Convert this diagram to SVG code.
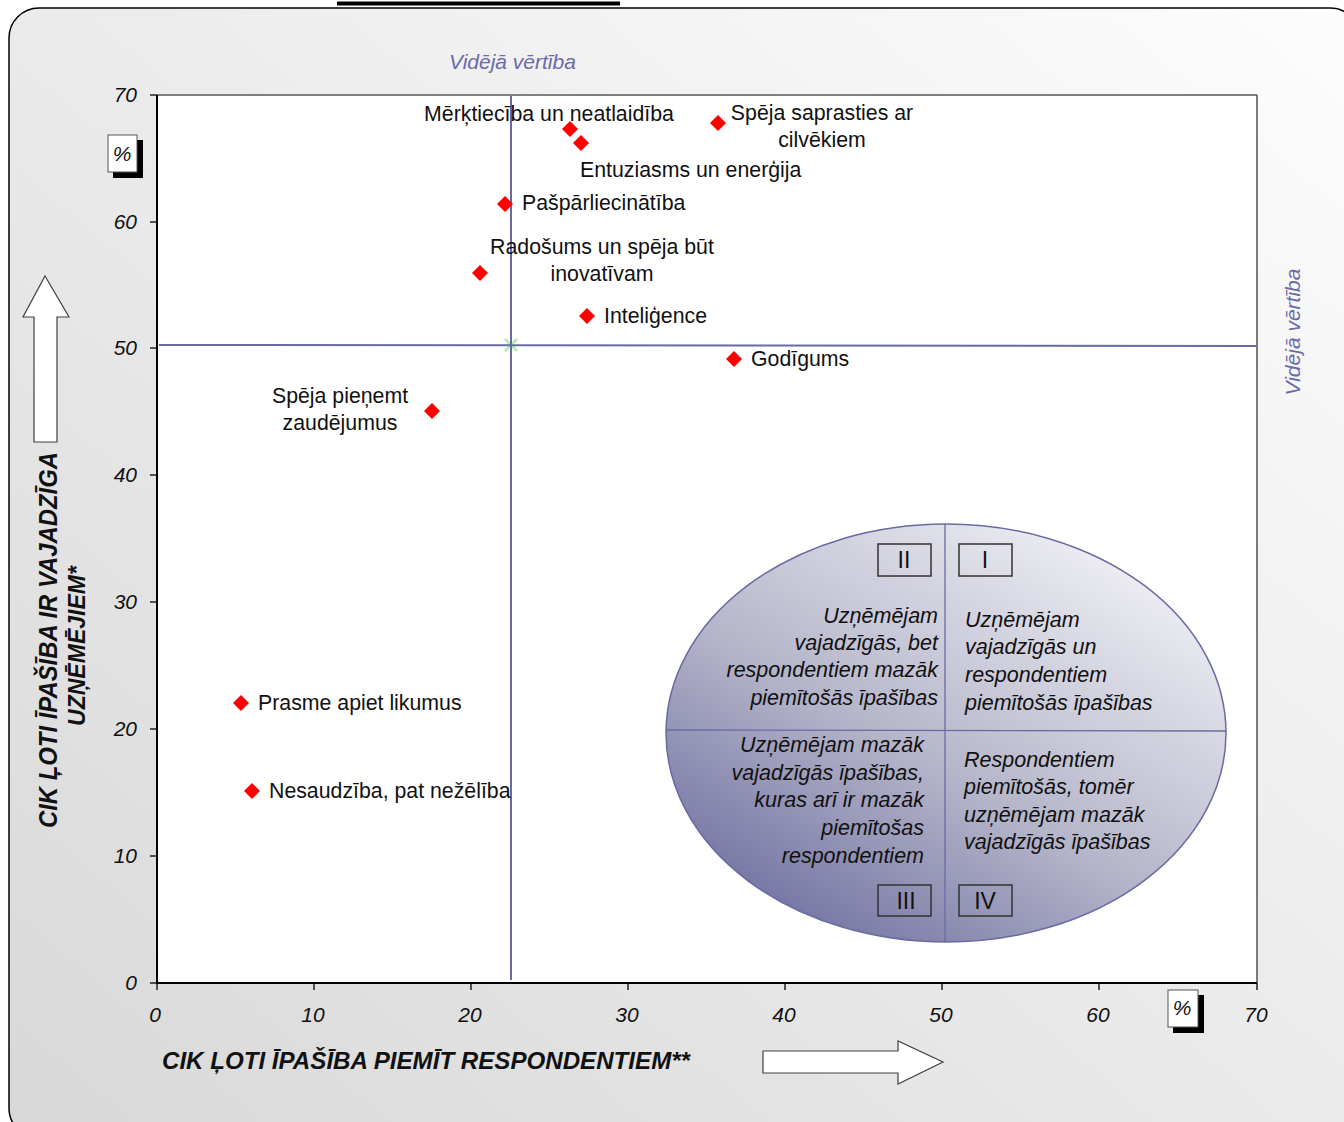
<svg xmlns="http://www.w3.org/2000/svg" width="1344" height="1122" viewBox="0 0 1344 1122">
<style>
.lbl{font-family:"Liberation Sans",Arial,sans-serif;font-size:21.3px;fill:#111}
.tick{font-family:"Liberation Sans",Arial,sans-serif;font-size:21px;font-style:italic;fill:#111}
.mean{font-family:"Liberation Sans",Arial,sans-serif;font-size:21px;font-style:italic;fill:#6a6aa8}
.q{font-family:"Liberation Sans",Arial,sans-serif;font-size:21.5px;font-style:italic;fill:#111}
.rn{font-family:"Liberation Sans",Arial,sans-serif;font-size:23px;fill:#111;text-anchor:middle}
.ax{font-family:"Liberation Sans",Arial,sans-serif;font-weight:bold;font-style:italic;fill:#111}
.dot{fill:#ff0000}
.meanline{stroke:#6a6aa2;stroke-width:2;fill:none}
.box{fill:none;stroke:#333;stroke-width:1.5}
.arrow{fill:#fff;stroke:#404040;stroke-width:1.2}
</style>
<defs>
<linearGradient id="bg" x1="0" y1="1" x2="1" y2="0">
<stop offset="0" stop-color="#d8d8d8"/>
<stop offset="1" stop-color="#fdfdfd"/>
</linearGradient>
<linearGradient id="ell" x1="0.1" y1="1" x2="0.9" y2="0">
<stop offset="0" stop-color="#65659a"/>
<stop offset="0.45" stop-color="#b6b6cb"/>
<stop offset="1" stop-color="#f8f8fa"/>
</linearGradient>
<clipPath id="qclip"><rect x="950" y="600" width="203" height="130"/></clipPath>
<path id="dm" d="M0,-8 L8,0 L0,8 L-8,0 Z"/>
</defs>

<g id="frame">
<rect x="9" y="8" width="1351" height="1130" rx="30" ry="30" fill="url(#bg)" stroke="#000" stroke-width="1.5"/>
<rect x="337" y="1.5" width="283" height="4" fill="#000"/>
</g>

<g id="plot">
<rect x="157" y="95" width="1100" height="888" fill="#fff"/>
<line x1="157" y1="95" x2="1257" y2="95" stroke="#7f7f7f" stroke-width="2"/>
<line x1="1257" y1="95" x2="1257" y2="983" stroke="#505050" stroke-width="1.5"/>
<line x1="157" y1="95" x2="157" y2="984" stroke="#000" stroke-width="2"/>
<line x1="156" y1="983" x2="1257" y2="983" stroke="#000" stroke-width="2"/>
<g stroke="#000" stroke-width="1.3">
<line x1="150" y1="95" x2="157" y2="95"/>
<line x1="150" y1="222" x2="157" y2="222"/>
<line x1="150" y1="348" x2="157" y2="348"/>
<line x1="150" y1="475" x2="157" y2="475"/>
<line x1="150" y1="602" x2="157" y2="602"/>
<line x1="150" y1="729" x2="157" y2="729"/>
<line x1="150" y1="856" x2="157" y2="856"/>
<line x1="150" y1="983" x2="157" y2="983"/>
<line x1="157" y1="983" x2="157" y2="990"/>
<line x1="314" y1="983" x2="314" y2="990"/>
<line x1="471" y1="983" x2="471" y2="990"/>
<line x1="628" y1="983" x2="628" y2="990"/>
<line x1="785" y1="983" x2="785" y2="990"/>
<line x1="942" y1="983" x2="942" y2="990"/>
<line x1="1099" y1="983" x2="1099" y2="990"/>
<line x1="1257" y1="983" x2="1257" y2="990"/>
</g>
<g class="tick" text-anchor="end">
<text x="137" y="102">70</text>
<text x="137" y="229">60</text>
<text x="137" y="355">50</text>
<text x="137" y="482">40</text>
<text x="137" y="609">30</text>
<text x="137" y="736">20</text>
<text x="137" y="863">10</text>
<text x="137" y="990">0</text>
</g>
<g class="tick" text-anchor="middle">
<text x="155" y="1022">0</text>
<text x="313" y="1022">10</text>
<text x="470" y="1022">20</text>
<text x="627" y="1022">30</text>
<text x="784" y="1022">40</text>
<text x="941" y="1022">50</text>
<text x="1098" y="1022">60</text>
<text x="1256" y="1022">70</text>
</g>
</g>

<g id="connectors">
<g stroke="#aef0ae" stroke-width="2.5">
<line x1="505" y1="339" x2="517" y2="351"/>
<line x1="505" y1="351" x2="517" y2="339"/>
</g>
<line class="meanline" x1="511" y1="96" x2="511" y2="980"/>
<line class="meanline" x1="159" y1="345" x2="1256" y2="346"/>
</g>

<g id="mean-labels">
<text class="mean" x="449" y="69">Vidējā vērtība</text>
<text class="mean" transform="translate(1300,332) rotate(-90)" text-anchor="middle">Vidējā vērtība</text>
</g>

<g id="points">
<g id="p-merktieciba"><use href="#dm" class="dot" x="570" y="129"/><text class="lbl" x="549" y="121" text-anchor="middle">Mērķtiecība un neatlaidība</text></g>
<g id="p-entuziasms"><use href="#dm" class="dot" x="581" y="143"/><text class="lbl" x="580" y="177">Entuziasms un enerģija</text></g>
<g id="p-speja-saprasties"><use href="#dm" class="dot" x="718" y="123"/><text class="lbl" x="822" y="120" text-anchor="middle">Spēja saprasties ar</text><text class="lbl" x="822" y="147" text-anchor="middle">cilvēkiem</text></g>
<g id="p-paspar"><use href="#dm" class="dot" x="505" y="204"/><text class="lbl" x="522" y="210">Pašpārliecinātība</text></g>
<g id="p-radosums"><use href="#dm" class="dot" x="480" y="273"/><text class="lbl" x="602" y="254" text-anchor="middle">Radošums un spēja būt</text><text class="lbl" x="602" y="281" text-anchor="middle">inovatīvam</text></g>
<g id="p-inteligence"><use href="#dm" class="dot" x="587" y="316"/><text class="lbl" x="604" y="323">Inteliģence</text></g>
<g id="p-godigums"><use href="#dm" class="dot" x="734" y="359"/><text class="lbl" x="751" y="366">Godīgums</text></g>
<g id="p-zaudejumi"><use href="#dm" class="dot" x="432" y="411"/><text class="lbl" x="340" y="403" text-anchor="middle">Spēja pieņemt</text><text class="lbl" x="340" y="430" text-anchor="middle">zaudējumus</text></g>
<g id="p-prasme"><use href="#dm" class="dot" x="241" y="703"/><text class="lbl" x="258" y="710">Prasme apiet likumus</text></g>
<g id="p-nesaudziba"><use href="#dm" class="dot" x="252" y="791"/><text class="lbl" x="269" y="798">Nesaudzība, pat nežēlība</text></g>
</g>

<g id="quadrant-ellipse">
<ellipse cx="946" cy="733" rx="280" ry="209" fill="url(#ell)" stroke="#6a6aa2" stroke-width="1.5"/>
<line x1="945" y1="524" x2="945" y2="942" stroke="#6a6aa2" stroke-width="1.3"/>
<line x1="666" y1="730" x2="1226" y2="731" stroke="#6a6aa2" stroke-width="1.3"/>
<rect class="box" x="878" y="544" width="53" height="32"/>
<rect class="box" x="959" y="544" width="53" height="32"/>
<rect class="box" x="878" y="885" width="53" height="31"/>
<rect class="box" x="959" y="885" width="53" height="31"/>
<text class="rn" x="904" y="568">II</text>
<text class="rn" x="985" y="568">I</text>
<text class="rn" x="906" y="909">III</text>
<text class="rn" x="985" y="909">IV</text>
<g class="q" text-anchor="end">
<text x="938" y="623">Uzņēmējam</text>
<text x="938" y="650">vajadzīgās, bet</text>
<text x="938" y="677">respondentiem mazāk</text>
<text x="938" y="705">piemītošās īpašības</text>
</g>
<g class="q" clip-path="url(#qclip)">
<text x="965" y="627">Uzņēmējam</text>
<text x="965" y="654">vajadzīgās un</text>
<text x="965" y="682">respondentiem</text>
<text x="965" y="710">piemītošās īpašības</text>
</g>
<g class="q" text-anchor="end">
<text x="924" y="752">Uzņēmējam mazāk</text>
<text x="924" y="780">vajadzīgās īpašības,</text>
<text x="924" y="807">kuras arī ir mazāk</text>
<text x="924" y="835">piemītošas</text>
<text x="924" y="863">respondentiem</text>
</g>
<g class="q">
<text x="964" y="767">Respondentiem</text>
<text x="964" y="794">piemītošās, tomēr</text>
<text x="964" y="822">uzņēmējam mazāk</text>
<text x="964" y="849">vajadzīgās īpašības</text>
</g>
</g>

<g id="y-axis-title">
<polygon class="arrow" points="45,276 69,317 57,317 57,442 34,442 34,317 23,317"/>
<text class="ax" font-size="25" transform="translate(57,640) rotate(-90)" text-anchor="middle" textLength="376" lengthAdjust="spacingAndGlyphs">CIK ĻOTI ĪPAŠĪBA IR VAJADZĪGA</text>
<text class="ax" font-size="24" transform="translate(85,646) rotate(-90)" text-anchor="middle" textLength="160" lengthAdjust="spacingAndGlyphs">UZŅĒMĒJIEM*</text>
<rect x="113" y="140" width="30" height="38" fill="#000"/>
<rect x="108" y="135" width="29" height="37" fill="#fff" stroke="#555" stroke-width="1"/>
<text class="tick" x="122" y="161" text-anchor="middle" font-size="20">%</text>
</g>

<g id="x-axis-title">
<text class="ax" font-size="23" x="162" y="1069" textLength="528" lengthAdjust="spacingAndGlyphs">CIK ĻOTI ĪPAŠĪBA PIEMĪT RESPONDENTIEM**</text>
<polygon class="arrow" points="763,1051 898,1051 898,1041 943,1062 898,1084 898,1073 763,1073"/>
<rect x="1173" y="995" width="31" height="38" fill="#000"/>
<rect x="1168" y="990" width="30" height="37" fill="#fff" stroke="#555" stroke-width="1"/>
<text class="tick" x="1182" y="1015" text-anchor="middle" font-size="20">%</text>
</g>
</svg>
